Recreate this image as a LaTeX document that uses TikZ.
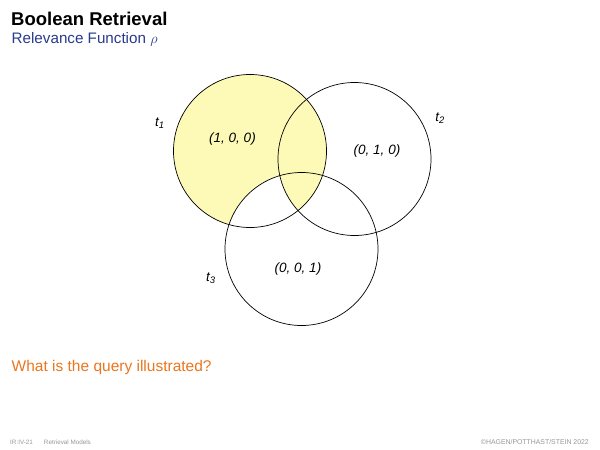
\documentclass[tikz,border=0pt]{standalone}
\usepackage{fontspec}
\setmainfont{Liberation Sans}
\definecolor{venny}{RGB}{252,250,182}
\definecolor{subblue}{RGB}{40,58,140}
\definecolor{qorange}{RGB}{234,118,30}
\definecolor{footgray}{RGB}{150,150,150}
\begin{document}
\begin{tikzpicture}[x=1pt,y=-1pt,
  circ/.style={draw=black,line width=0.7pt},
  lbl/.style={inner sep=0pt,font=\fontsize{13.5}{15}\selectfont\itshape},
  foot/.style={inner sep=0pt,anchor=base west,font=\fontsize{6.3}{7}\selectfont,text=footgray}]
\useasboundingbox (0,0) rectangle (600,450);
\coordinate (c1) at (250,151);
\coordinate (c2) at (354.5,159);
\coordinate (c3) at (301.5,249);
\def\rr{76.5}
% fill
\fill[venny] (c1) circle[radius=\rr];
\begin{scope}
  \clip (c1) circle[radius=\rr];
  \clip (c3) circle[radius=\rr];
  \fill[white] (c3) circle[radius=\rr];
\end{scope}
\begin{scope}
  \clip (c1) circle[radius=\rr];
  \clip (c2) circle[radius=\rr];
  \fill[venny] (c2) circle[radius=\rr];
\end{scope}
\draw[circ] (c1) circle[radius=\rr];
\draw[circ] (c2) circle[radius=\rr];
\draw[circ] (c3) circle[radius=\rr];
% labels
\node[lbl] (v1) at (232.5,139) {(1, 0, 0)};
\node[lbl] (v2) at (377,151) {(0, 1, 0)};
\node[lbl] (v3) at (298,269) {(0, 0, 1)};
\node[lbl] (t1) at (160,123) {t\textsubscript{1}};
\node[lbl] (t2) at (440,118) {t\textsubscript{2}};
\node[lbl] (t3) at (211,278) {t\textsubscript{3}};
% titles
\node[inner sep=0pt,anchor=base west,font=\fontsize{18.5}{20}\selectfont\bfseries] (title) at (11,25) {Boolean Retrieval};
\node[inner sep=0pt,anchor=base west,font=\fontsize{15.2}{17}\selectfont,text=subblue] (sub) at (11.5,43.5) {Relevance Function $\rho$};
\node[inner sep=0pt,anchor=base west,font=\fontsize{15.5}{17}\selectfont,text=qorange] (q) at (11.5,371.7) {What is the query illustrated?};
% footer
\node[foot] (f1) at (10,444) {IR:IV-21\hspace{11pt}Retrieval Models};
\node[foot,anchor=base east,font=\fontsize{6.9}{7}\selectfont] (f2) at (589,444) {©HAGEN/POTTHAST/STEIN 2022};
\end{tikzpicture}
\end{document}
